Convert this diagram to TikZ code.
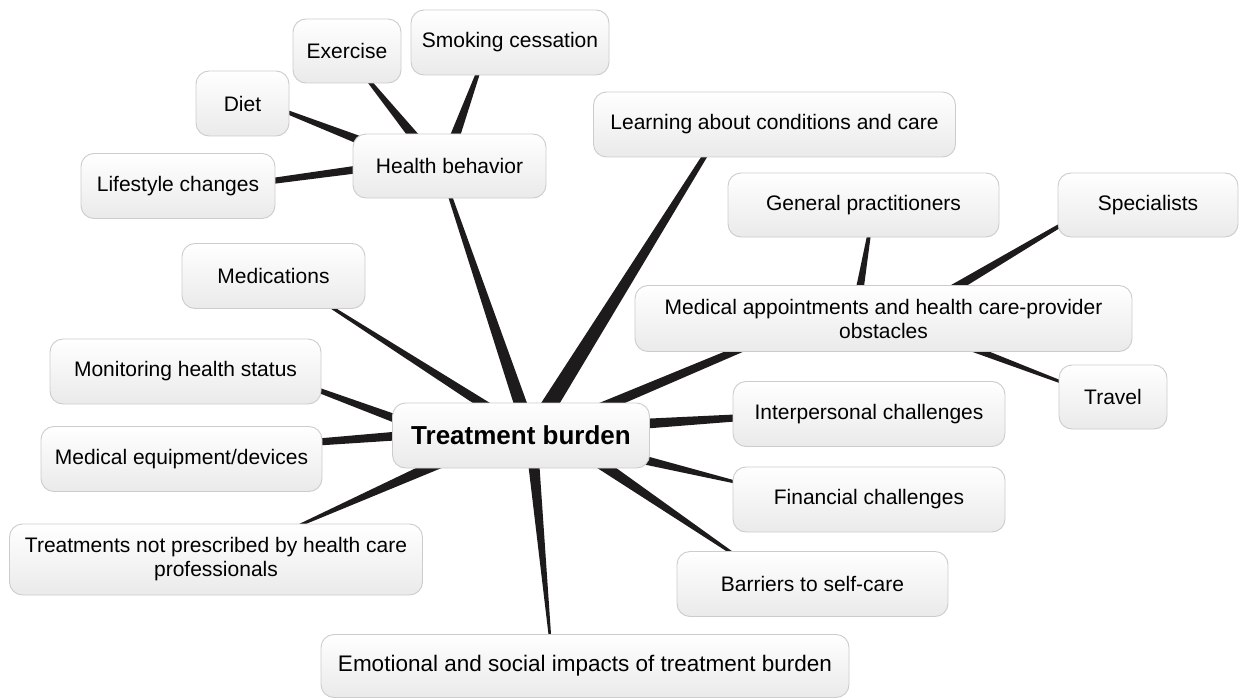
\documentclass[tikz,border=0pt]{standalone}
\usepackage{fontspec}
\setmainfont{Liberation Sans}
\usetikzlibrary{calc}
\pgfdeclarelayer{bg}
\pgfsetlayers{bg,main}
\definecolor{brc}{RGB}{30,27,28}
\definecolor{bord}{RGB}{204,204,204}
\definecolor{shadebot}{RGB}{234,234,234}
\tikzset{
  topic/.style={draw=bord, line width=0.9pt, rounded corners=13pt, top color=white, bottom color=shadebot, align=center, inner sep=0pt, font=\fontsize{21}{24}\selectfont, minimum height=65pt},
  central/.style={topic, font=\bfseries\fontsize{26}{30}\selectfont},
}
% #1 start coordinate, #2 end coordinate, #3 half width at start, #4 half width at end
\newcommand\mmbranch[4]{%
  \fill[brc] let \p1=(#1), \p2=(#2), \n1={atan2(\y2-\y1,\x2-\x1)+90} in
    ($(\p1)+(\n1:#3)$) -- ($(\p2)+(\n1:#4)$) -- ($(\p2)-(\n1:#4)$) -- ($(\p1)-(\n1:#3)$) -- cycle;}
\begin{document}
\begin{tikzpicture}[x=1pt,y=-1pt]
\useasboundingbox (0,0) rectangle (1240,698);
% nodes
\node[central, minimum width=257pt] (tb) at (521,435.5) {Treatment burden};
\node[topic, minimum width=193pt, minimum height=64pt] (hb) at (449.5,166) {Health behavior};
\node[topic, minimum width=108pt, minimum height=64pt] (ex) at (347,51) {Exercise};
\node[topic, minimum width=198pt] (smk) at (510,42.5) {Smoking cessation};
\node[topic, minimum width=93pt] (diet) at (242.5,103.5) {Diet};
\node[topic, minimum width=194pt] (life) at (178,186) {Lifestyle changes};
\node[topic, minimum width=362pt] (learn) at (774.5,124.5) {Learning about conditions and care};
\node[topic, minimum width=271pt, minimum height=64pt] (gp) at (863.5,205) {General practitioners};
\node[topic, minimum width=180pt, minimum height=64pt] (spec) at (1148,205) {Specialists};
\node[topic, minimum width=497pt, minimum height=66pt] (ma) at (883.5,318.5) {Medical appointments and health care-provider\\obstacles};
\node[topic, minimum width=108pt, minimum height=64pt] (travel) at (1113,397) {Travel};
\node[topic, minimum width=272pt] (inter) at (869,414) {Interpersonal challenges};
\node[topic, minimum width=272pt] (fin) at (869,499.5) {Financial challenges};
\node[topic, minimum width=271pt] (bar) at (812.5,584) {Barriers to self-care};
\node[topic, minimum width=183pt] (med) at (273.5,276) {Medications};
\node[topic, minimum width=271pt] (mon) at (185.5,371.5) {Monitoring health status};
\node[topic, minimum width=281pt] (equip) at (181.5,459) {Medical equipment/devices};
\node[topic, minimum width=413pt, minimum height=71pt] (treat) at (216,559.5) {Treatments not prescribed by health care\\professionals};
\node[topic, minimum width=528pt, minimum height=63pt, font=\fontsize{22.5}{25}\selectfont] (emo) at (585,666) {Emotional and social impacts of treatment burden};
% branch end points
\coordinate (s-hb) at ($(tb)+(9,-3.5)$);      \coordinate (e-hb) at ($(hb)+(0.5,30)$);
\coordinate (s-learn) at ($(tb)+(14,-7.5)$);  \coordinate (e-learn) at ($(learn)+(-68.5,29.5)$);
\coordinate (s-ma) at ($(tb)+(39,-10.5)$);    \coordinate (e-ma) at ($(ma)+(-133.5,26.5)$);
\coordinate (s-inter) at ($(tb)+(119,-11.5)$); \coordinate (e-inter) at ($(inter)+(-134,4)$);
\coordinate (s-fin) at ($(tb)+(119,23.5)$);   \coordinate (e-fin) at ($(fin)+(-134,-17.5)$);
\coordinate (s-bar) at ($(tb)+(64,17.5)$);    \coordinate (e-bar) at ($(bar)+(-80.5,-31)$);
\coordinate (s-emo) at ($(tb)+(11,9.5)$);     \coordinate (e-emo) at ($(emo)+(-35,-29)$);
\coordinate (s-treat) at ($(tb)+(-66,20.5)$); \coordinate (e-treat) at ($(treat)+(84,-34.5)$);
\coordinate (s-equip) at ($(tb)+(-111,-0.5)$); \coordinate (e-equip) at ($(equip)+(136.5,-17)$);
\coordinate (s-mon) at ($(tb)+(-111,-11.5)$); \coordinate (e-mon) at ($(mon)+(132.5,18.5)$);
\coordinate (s-med) at ($(tb)+(-21,-20.5)$);  \coordinate (e-med) at ($(med)+(57.5,31)$);
\coordinate (s-ex) at ($(hb)+(-24.5,-16)$);   \coordinate (e-ex) at ($(ex)+(22,30)$);
\coordinate (s-smk) at ($(hb)+(0.5,-16)$);    \coordinate (e-smk) at ($(smk)+(-32,30.5)$);
\coordinate (s-diet) at ($(hb)+(-59.5,-14)$); \coordinate (e-diet) at ($(diet)+(44.5,8.5)$);
\coordinate (s-life) at ($(hb)+(-74.5,1)$);   \coordinate (e-life) at ($(life)+(94,-5)$);
\coordinate (s-gp) at ($(ma)+(-26.5,-13.5)$); \coordinate (e-gp) at ($(gp)+(5.5,30)$);
\coordinate (s-spec) at ($(ma)+(42.5,-13.5)$); \coordinate (e-spec) at ($(spec)+(-87,20)$);
\coordinate (s-travel) at ($(ma)+(53.5,16.5)$); \coordinate (e-travel) at ($(travel)+(-52,-15)$);
\begin{pgfonlayer}{bg}
\mmbranch{s-hb}{e-hb}{7pt}{2pt}
\mmbranch{s-learn}{e-learn}{8.5pt}{2.5pt}
\mmbranch{s-ma}{e-ma}{5.5pt}{3.5pt}
\mmbranch{s-inter}{e-inter}{5pt}{3.5pt}
\mmbranch{s-fin}{e-fin}{4.5pt}{1.5pt}
\mmbranch{s-bar}{e-bar}{6pt}{1.5pt}
\mmbranch{s-emo}{e-emo}{6pt}{1.2pt}
\mmbranch{s-treat}{e-treat}{6pt}{1.3pt}
\mmbranch{s-equip}{e-equip}{4.5pt}{3.5pt}
\mmbranch{s-mon}{e-mon}{4.5pt}{2.5pt}
\mmbranch{s-med}{e-med}{5pt}{1.5pt}
\mmbranch{s-ex}{e-ex}{5.5pt}{2pt}
\mmbranch{s-smk}{e-smk}{5.5pt}{2pt}
\mmbranch{s-diet}{e-diet}{5pt}{2pt}
\mmbranch{s-life}{e-life}{4pt}{3pt}
\mmbranch{s-gp}{e-gp}{4.5pt}{1.8pt}
\mmbranch{s-spec}{e-spec}{5pt}{2pt}
\mmbranch{s-travel}{e-travel}{4pt}{1.5pt}
\end{pgfonlayer}
\end{tikzpicture}
\end{document}
